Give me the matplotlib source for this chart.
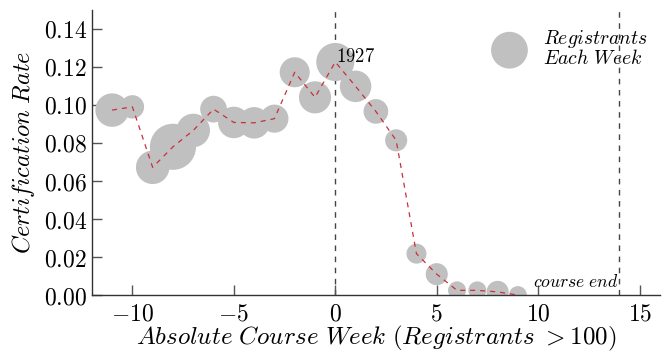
import matplotlib
matplotlib.use("Agg")
import matplotlib.pyplot as plt
from matplotlib.ticker import FuncFormatter, FixedLocator
import numpy as np

plt.rcParams['mathtext.fontset'] = 'cm'
plt.rcParams['font.family'] = ['DejaVu Serif']

weeks = [-11, -10, -9, -8, -7, -6, -5, -4, -3, -2, -1, 0, 1, 2, 3, 4, 5, 6, 7, 8, 9]
cert_rate = [0.0973, 0.0990, 0.0672, 0.0780, 0.0866, 0.0978, 0.0908, 0.0906, 0.0928, 0.1172,
             0.1040, 0.1226, 0.1098, 0.0966, 0.0814, 0.0218, 0.0110, 0.0025, 0.0025, 0.0017, 0.0000]
registrants = [1490, 730, 1490, 2830, 1490, 950, 1320, 1320, 1050, 1200,
               1370, 1927, 1320, 810, 650, 530, 650, 430, 430, 650, 430]
x_ticks = [-10, -5, 0, 5, 10, 15]
y_ticks = [0.00, 0.02, 0.04, 0.06, 0.08, 0.10, 0.12, 0.14]
course_end_week = 14
annot_label = "1927"

fig = plt.figure(figsize=(6.7, 3.53), dpi=100)
ax = fig.add_axes([0.137, 0.164, 0.848, 0.808])

size_scale = 0.39
ax.scatter(weeks, cert_rate, s=np.array(registrants) * size_scale, color='#c0c0c0',
           edgecolors='none', zorder=2, label=r'$Registrants$' + '\n' + r'$Each\ Week$')
ax.plot(weeks, cert_rate, linestyle=(0, (4, 4)), color='#c8303a', linewidth=0.9, zorder=3)

ax.axvline(0, color='#444444', linestyle=(0, (4, 4)), linewidth=1.0, zorder=1)
ax.axvline(course_end_week, color='#444444', linestyle=(0, (4, 4)), linewidth=1.0, zorder=1)

ax.text(0.03, 0.1226, r'$%s$' % annot_label, fontsize=13.5, va='baseline', ha='left', zorder=4)
ax.text(course_end_week - 0.05, 0.0045, r'$course\ end$', fontsize=12.7, ha='right', va='baseline')

ax.set_xlim(-12, 16)
ax.set_ylim(0, 0.15)
ax.xaxis.set_major_locator(FixedLocator(x_ticks))
ax.yaxis.set_major_locator(FixedLocator(y_ticks))
ax.xaxis.set_major_formatter(FuncFormatter(lambda v, p: r'$%d$' % v))
ax.yaxis.set_major_formatter(FuncFormatter(lambda v, p: r'$%.2f$' % v))
ax.tick_params(axis='both', direction='in', length=7, width=1.0, color='#555555', labelsize=17)
ax.tick_params(axis='x', pad=5)

for s in ['top', 'right']:
    ax.spines[s].set_visible(False)
for s in ['left', 'bottom']:
    ax.spines[s].set_color('#333333')
    ax.spines[s].set_linewidth(1.0)

ax.set_xlabel(r'$Absolute\ Course\ Week\ (Registrants\ >100)$', fontsize=18, labelpad=-1)
ax.set_ylabel(r'$Certification\ Rate$', fontsize=17.5, labelpad=5)

leg = ax.legend(loc='upper right', bbox_to_anchor=(0.993, 0.965), frameon=False, fontsize=14.2,
                markerscale=1.05, handletextpad=0.7, borderaxespad=0.0, scatterpoints=1)
for t in leg.get_texts():
    t.set_linespacing(0.95)

fig.savefig('out.png', dpi=100)
